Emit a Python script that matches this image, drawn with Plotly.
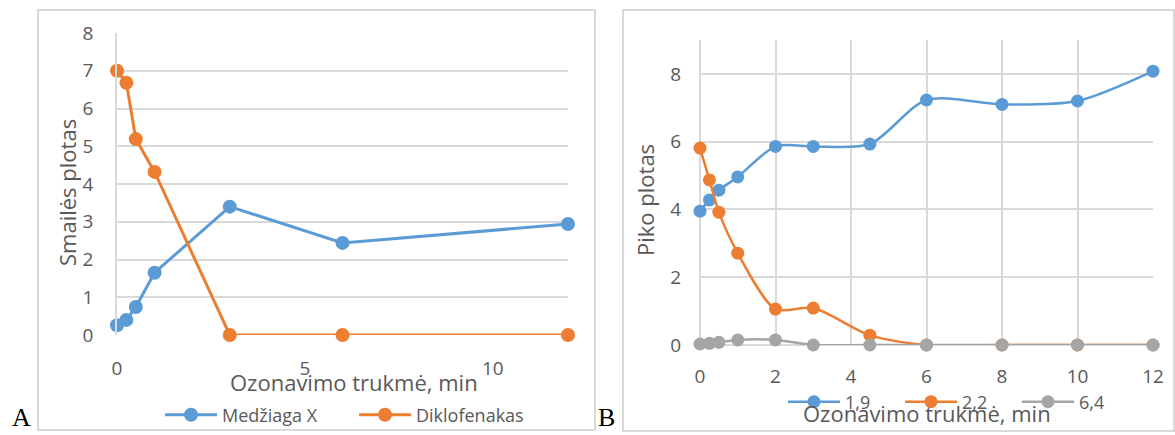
import plotly.graph_objects as go

# ---- Panel A data ----
time_a = [0, 0.25, 0.5, 1, 3, 6, 12]
medziaga_x = [0.26, 0.40, 0.74, 1.65, 3.40, 2.44, 2.94]
diklofenakas = [7.0, 6.68, 5.19, 4.32, 0.0, 0.0, 0.0]

# ---- Panel B data ----
time_b = [0, 0.25, 0.5, 1, 2, 3, 4.5, 6, 8, 10, 12]
pik_19 = [3.95, 4.28, 4.57, 4.96, 5.86, 5.86, 5.93, 7.23, 7.10, 7.20, 8.08]
pik_22 = [5.81, 4.87, 3.92, 2.71, 1.06, 1.09, 0.29, 0.0, 0.0, 0.0, 0.0]
pik_64 = [0.03, 0.05, 0.08, 0.15, 0.15, 0.0, 0.0, 0.0, 0.0, 0.0, 0.0]

W, H = 1175, 435
BLUE, ORANGE, GRAY = "#5B9BD5", "#ED7D31", "#A5A5A5"
GRID = "#D9D9D9"
TXT = "#595959"
FONT = "Open Sans"


def fx(p):
    return p / W


def fy(p):
    return 1 - p / H


fig = go.Figure()

# Panel A: straight lines with markers
for name, ys, col in [("Medžiaga X", medziaga_x, BLUE), ("Diklofenakas", diklofenakas, ORANGE)]:
    fig.add_trace(go.Scatter(
        x=time_a, y=ys, name=name, mode="lines+markers",
        line=dict(color=col, width=3), marker=dict(color=col, size=14),
        xaxis="x", yaxis="y", legend="legend", cliponaxis=False,
    ))

# Panel B: smoothed lines with markers
for name, ys, col in [("1,9", pik_19, BLUE), ("2,2", pik_22, ORANGE), ("6,4", pik_64, GRAY)]:
    fig.add_trace(go.Scatter(
        x=time_b, y=ys, name=name, mode="lines+markers",
        line=dict(color=col, width=2.5, shape="spline", smoothing=0.8),
        marker=dict(color=col, size=13),
        xaxis="x2", yaxis="y2", legend="legend2", cliponaxis=False,
    ))

tickfont = dict(family=FONT, size=19, color=TXT)


def label(text, px, py, size=22, angle=0, family=FONT, color=TXT):
    return dict(text=text, x=fx(px), y=fy(py), xref="paper", yref="paper",
                xanchor="center", yanchor="middle", showarrow=False, textangle=angle,
                font=dict(family=family, size=size, color=color))


fig.update_layout(
    width=W, height=H,
    margin=dict(l=0, r=0, t=0, b=0, autoexpand=False),
    paper_bgcolor="white", plot_bgcolor="white",
    showlegend=True,
    xaxis=dict(
        domain=[fx(117), fx(568)], range=[0, 12], anchor="y",
        tickvals=[0, 5, 10], showgrid=False, zeroline=False, showline=False,
        ticks="", tickfont=tickfont, ticklabelstandoff=20,
    ),
    yaxis=dict(
        domain=[fy(335), fy(33)], range=[0, 8], anchor="x",
        dtick=1, showgrid=True, gridcolor=GRID, gridwidth=1.5,
        zeroline=False, showline=True, linecolor=GRID, linewidth=1.5,
        ticks="", tickfont=tickfont, ticklabelstandoff=18,
    ),
    xaxis2=dict(
        domain=[fx(700), fx(1153)], range=[0, 12], anchor="y2",
        dtick=2, showgrid=True, gridcolor=GRID, gridwidth=1.5,
        zeroline=True, zerolinecolor=GRID, zerolinewidth=1.5, showline=False,
        ticks="", tickfont=tickfont, ticklabelstandoff=18,
    ),
    yaxis2=dict(
        domain=[fy(345), fy(40)], range=[0, 9], anchor="x2",
        tickvals=[0, 2, 4, 6, 8], showgrid=True, gridcolor=GRID, gridwidth=1.5,
        zeroline=True, zerolinecolor=GRID, zerolinewidth=1.5, showline=False,
        ticks="", tickfont=tickfont, ticklabelstandoff=18,
    ),
    legend=dict(
        orientation="h", x=fx(160), y=fy(415), xanchor="left", yanchor="middle",
        font=dict(family=FONT, size=18, color=TXT), itemwidth=52,
        bgcolor="rgba(0,0,0,0)", entrywidth=127,
    ),
    legend2=dict(
        orientation="h", x=fx(783), y=fy(402), xanchor="left", yanchor="middle",
        font=dict(family=FONT, size=18, color=TXT), itemwidth=52,
        bgcolor="rgba(0,0,0,0)", entrywidth=50,
    ),
    shapes=[
        dict(type="rect", xref="paper", yref="paper", x0=fx(38), x1=fx(595), y0=fy(430), y1=fy(10),
             line=dict(color=GRID, width=2), layer="below"),
        dict(type="rect", xref="paper", yref="paper", x0=fx(623), x1=fx(1174), y0=fy(431), y1=fy(10),
             line=dict(color=GRID, width=2), layer="below"),
    ],
    annotations=[
        label("Ozonavimo trukmė, min", 354, 382),
        label("Smailės plotas", 67, 193, angle=-90),
        label("Ozonavimo trukmė, min", 927, 413),
        label("Piko plotas", 645, 200, angle=-90),
        label("A", 21, 417, size=26, family="Liberation Serif", color="black"),
        label("B", 606, 417, size=26, family="Liberation Serif", color="black"),
    ],
)

fig.write_html("out.html")
